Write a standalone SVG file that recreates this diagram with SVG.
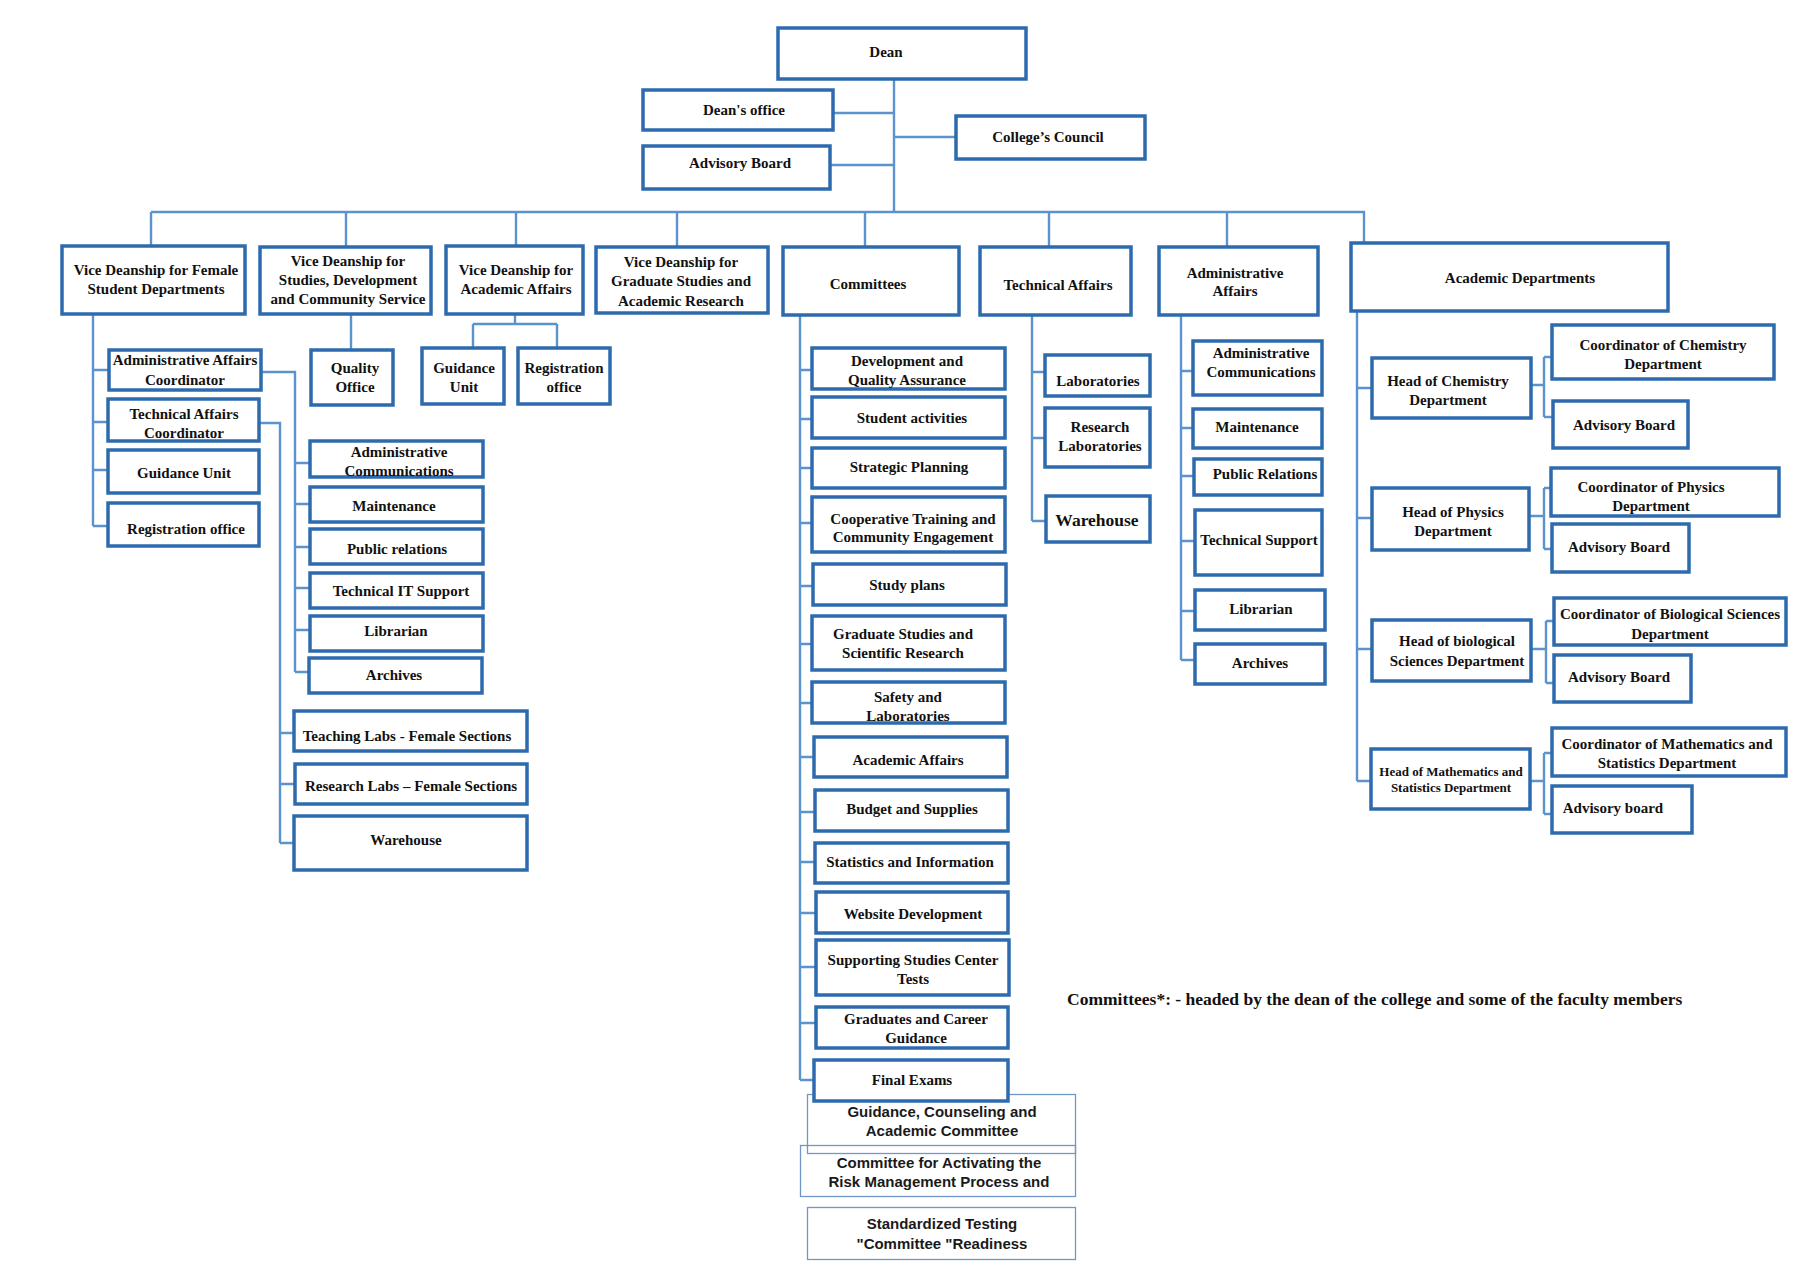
<svg xmlns="http://www.w3.org/2000/svg" width="1800" height="1270" viewBox="0 0 1800 1270">
<style>
.b{fill:#fff;stroke:#2E6BAE;stroke-width:3.5}
.tb{fill:none;stroke:#7097C8;stroke-width:1.3}
.c{fill:none;stroke:#5B93CF;stroke-width:2.4}
.t{font-family:"Liberation Serif","Times New Roman",serif;font-weight:bold;font-size:15px;fill:#111;text-anchor:middle}
.s{font-family:"Liberation Sans",Arial,sans-serif;font-weight:bold;font-size:15px;fill:#1a1a1a;text-anchor:middle}
</style>
<rect width="1800" height="1270" fill="#fff"/>
<g id="connectors">
<path class="c" d="M894 80V212 M833 113H894 M830 165H894 M894 137H955"/>
<path class="c" d="M151 212H1365 M151 212V246 M346 212V247 M516 212V246 M677 212V247 M865 212V247 M1049 212V247 M1227 212V247 M1364 212V243"/>
<path class="c" d="M93 314V526 M93 370H108 M93 422H108 M93 470H108 M93 526H108"/>
<path class="c" d="M261 372H295V672 M295 463H310 M295 504H310 M295 547H310 M295 588H310 M295 630H310 M295 672H309"/>
<path class="c" d="M259 423H280V843 M280 733H294 M280 784H295 M280 843H294"/>
<path class="c" d="M351 314V350"/>
<path class="c" d="M515 314V324 M473 324H557 M473 324V348 M557 324V348"/>
<path class="c" d="M800 315V1080 M800 370H812 M800 419H812 M800 468H812 M800 523H812 M800 586H813 M800 644H812 M800 703H812 M800 757H814 M800 812H815 M800 862H815 M800 913H816 M800 967H816 M800 1023H816 M800 1080H814"/>
<path class="c" d="M1032 315V521 M1032 372H1045 M1032 438H1045 M1032 521H1046"/>
<path class="c" d="M1181 315V660 M1181 371H1193 M1181 428H1193 M1181 476H1194 M1181 541H1195 M1181 611H1195 M1181 660H1195"/>
<path class="c" d="M1357 311V781 M1357 388H1372 M1357 518H1372 M1357 649H1372 M1357 781H1371"/>
<path class="c" d="M1531 385H1544 M1544 357V417 M1544 357H1552 M1544 417H1553"/>
<path class="c" d="M1529 516H1544 M1544 488V549 M1544 488H1551 M1544 549H1552"/>
<path class="c" d="M1531 649H1546 M1546 621V683 M1546 621H1554 M1546 683H1554"/>
<path class="c" d="M1530 781H1544 M1544 753V814 M1544 753H1552 M1544 814H1552"/>
</g>
<g id="dean"><rect class="b" x="778" y="28" width="248" height="51"/><text class="t" x="886" y="57">Dean</text></g>
<g id="deans-office"><rect class="b" x="643" y="90" width="190" height="40"/><text class="t" x="744" y="115">Dean's office</text></g>
<g id="advisory-board-top"><rect class="b" x="643" y="146" width="187" height="43"/><text class="t" x="740" y="168">Advisory Board</text></g>
<g id="colleges-council"><rect class="b" x="956" y="116" width="189" height="43"/><text class="t" x="1048" y="142">College’s Council</text></g>
<g id="vd-female"><rect class="b" x="62" y="246" width="183" height="68"/><text class="t" x="156" y="275">Vice Deanship for Female</text><text class="t" x="156" y="294">Student Departments</text></g>
<g id="vd-studies"><rect class="b" x="260" y="247" width="171" height="67"/><text class="t" x="348" y="266">Vice Deanship for</text><text class="t" x="348" y="285">Studies, Development</text><text class="t" x="348" y="304">and Community Service</text></g>
<g id="vd-academic"><rect class="b" x="446" y="246" width="137" height="68"/><text class="t" x="516" y="275">Vice Deanship for</text><text class="t" x="516" y="294">Academic Affairs</text></g>
<g id="vd-graduate"><rect class="b" x="596" y="247" width="172" height="66"/><text class="t" x="681" y="267">Vice Deanship for</text><text class="t" x="681" y="286">Graduate Studies and</text><text class="t" x="681" y="306">Academic Research</text></g>
<g id="committees"><rect class="b" x="783" y="247" width="176" height="68"/><text class="t" x="868" y="289">Committees</text></g>
<g id="technical-affairs"><rect class="b" x="980" y="247" width="151" height="68"/><text class="t" x="1058" y="290">Technical Affairs</text></g>
<g id="administrative-affairs"><rect class="b" x="1159" y="247" width="159" height="68"/><text class="t" x="1235" y="278">Administrative</text><text class="t" x="1235" y="296">Affairs</text></g>
<g id="academic-departments"><rect class="b" x="1351" y="243" width="317" height="68"/><text class="t" x="1520" y="283">Academic Departments</text></g>
<g id="admin-affairs-coordinator"><rect class="b" x="109" y="350" width="152" height="40"/><text class="t" x="185" y="365">Administrative Affairs</text><text class="t" x="185" y="385">Coordinator</text></g>
<g id="technical-affairs-coordinator"><rect class="b" x="108" y="399" width="151" height="42"/><text class="t" x="184" y="419">Technical Affairs</text><text class="t" x="184" y="438">Coordinator</text></g>
<g id="guidance-unit-f"><rect class="b" x="108" y="450" width="151" height="43"/><text class="t" x="184" y="478">Guidance Unit</text></g>
<g id="registration-office-f"><rect class="b" x="108" y="503" width="151" height="43"/><text class="t" x="186" y="534">Registration office</text></g>
<g id="admin-communications-f"><rect class="b" x="310" y="441" width="173" height="36"/><text class="t" x="399" y="457">Administrative</text><text class="t" x="399" y="476">Communications</text></g>
<g id="maintenance-f"><rect class="b" x="310" y="487" width="173" height="35"/><text class="t" x="394" y="511">Maintenance</text></g>
<g id="public-relations-f"><rect class="b" x="310" y="529" width="173" height="35"/><text class="t" x="397" y="554">Public relations</text></g>
<g id="technical-it-support"><rect class="b" x="310" y="573" width="173" height="35"/><text class="t" x="401" y="596">Technical IT Support</text></g>
<g id="librarian-f"><rect class="b" x="310" y="616" width="173" height="35"/><text class="t" x="396" y="636">Librarian</text></g>
<g id="archives-f"><rect class="b" x="309" y="658" width="173" height="35"/><text class="t" x="394" y="680">Archives</text></g>
<g id="teaching-labs"><rect class="b" x="294" y="711" width="233" height="40"/><text class="t" x="407" y="741">Teaching Labs - Female Sections</text></g>
<g id="research-labs-f"><rect class="b" x="295" y="764" width="232" height="40"/><text class="t" x="411" y="791">Research Labs – Female Sections</text></g>
<g id="warehouse-f"><rect class="b" x="294" y="816" width="233" height="54"/><text class="t" x="406" y="845">Warehouse</text></g>
<g id="quality-office"><rect class="b" x="311" y="350" width="82" height="55"/><text class="t" x="355" y="373">Quality</text><text class="t" x="355" y="392">Office</text></g>
<g id="guidance-unit-a"><rect class="b" x="422" y="348" width="82" height="56"/><text class="t" x="464" y="373">Guidance</text><text class="t" x="464" y="392">Unit</text></g>
<g id="registration-office-a"><rect class="b" x="518" y="348" width="92" height="56"/><text class="t" x="564" y="373">Registration</text><text class="t" x="564" y="392">office</text></g>
<g id="development-qa"><rect class="b" x="812" y="348" width="193" height="41"/><text class="t" x="907" y="366">Development and</text><text class="t" x="907" y="385">Quality Assurance</text></g>
<g id="student-activities"><rect class="b" x="812" y="397" width="193" height="41"/><text class="t" x="912" y="423">Student activities</text></g>
<g id="strategic-planning"><rect class="b" x="812" y="448" width="193" height="40"/><text class="t" x="909" y="472">Strategic Planning</text></g>
<g id="cooperative-training"><rect class="b" x="812" y="497" width="193" height="55"/><text class="t" x="913" y="524">Cooperative Training and</text><text class="t" x="913" y="542">Community Engagement</text></g>
<g id="study-plans"><rect class="b" x="813" y="564" width="193" height="41"/><text class="t" x="907" y="590">Study plans</text></g>
<g id="graduate-studies"><rect class="b" x="812" y="616" width="193" height="54"/><text class="t" x="903" y="639">Graduate Studies and</text><text class="t" x="903" y="658">Scientific Research</text></g>
<g id="safety-labs"><rect class="b" x="812" y="682" width="193" height="41"/><text class="t" x="908" y="702">Safety and</text><text class="t" x="908" y="721">Laboratories</text></g>
<g id="academic-affairs-c"><rect class="b" x="814" y="737" width="193" height="40"/><text class="t" x="908" y="765">Academic Affairs</text></g>
<g id="budget-supplies"><rect class="b" x="815" y="790" width="193" height="41"/><text class="t" x="912" y="814">Budget and Supplies</text></g>
<g id="statistics-information"><rect class="b" x="815" y="843" width="193" height="40"/><text class="t" x="910" y="867">Statistics and Information</text></g>
<g id="website-development"><rect class="b" x="816" y="892" width="192" height="41"/><text class="t" x="913" y="919">Website Development</text></g>
<g id="supporting-studies"><rect class="b" x="816" y="940" width="193" height="55"/><text class="t" x="913" y="965">Supporting Studies Center</text><text class="t" x="913" y="984">Tests</text></g>
<g id="graduates-career"><rect class="b" x="816" y="1007" width="192" height="41"/><text class="t" x="916" y="1024">Graduates and Career</text><text class="t" x="916" y="1043">Guidance</text></g>
<g id="guidance-counseling"><rect class="tb" x="807.5" y="1094.5" width="268" height="59"/><text class="s" x="942" y="1117">Guidance, Counseling and</text><text class="s" x="942" y="1136">Academic Committee</text></g>
<g id="risk-management"><rect class="tb" x="800.5" y="1145.5" width="275" height="51"/><text class="s" x="939" y="1168">Committee for Activating the</text><text class="s" x="939" y="1187">Risk Management Process and</text></g>
<g id="standardized-testing"><rect class="tb" x="807.5" y="1207.5" width="268" height="52"/><text class="s" x="942" y="1229">Standardized Testing</text><text class="s" x="942" y="1249">"Committee "Readiness</text></g>
<g id="final-exams"><rect class="b" x="814" y="1060" width="194" height="41"/><text class="t" x="912" y="1085">Final Exams</text></g>
<g id="laboratories"><rect class="b" x="1045" y="355" width="105" height="41"/><text class="t" x="1098" y="386">Laboratories</text></g>
<g id="research-laboratories"><rect class="b" x="1045" y="408" width="105" height="59"/><text class="t" x="1100" y="432">Research</text><text class="t" x="1100" y="451">Laboratories</text></g>
<g id="warehouse-t"><rect class="b" x="1046" y="496" width="104" height="46"/><text class="t" x="1097" y="526" style="font-size:17.5px">Warehouse</text></g>
<g id="admin-communications-a"><rect class="b" x="1193" y="341" width="129" height="54"/><text class="t" x="1261" y="358">Administrative</text><text class="t" x="1261" y="377">Communications</text></g>
<g id="maintenance-a"><rect class="b" x="1193" y="409" width="129" height="39"/><text class="t" x="1257" y="432">Maintenance</text></g>
<g id="public-relations-a"><rect class="b" x="1194" y="459" width="128" height="36"/><text class="t" x="1265" y="479">Public Relations</text></g>
<g id="technical-support"><rect class="b" x="1195" y="510" width="127" height="65"/><text class="t" x="1259" y="545">Technical Support</text></g>
<g id="librarian-a"><rect class="b" x="1195" y="590" width="130" height="40"/><text class="t" x="1261" y="614">Librarian</text></g>
<g id="archives-a"><rect class="b" x="1195" y="644" width="130" height="40"/><text class="t" x="1260" y="668">Archives</text></g>
<g id="head-chemistry"><rect class="b" x="1372" y="358" width="159" height="60"/><text class="t" x="1448" y="386">Head of Chemistry</text><text class="t" x="1448" y="405">Department</text></g>
<g id="coord-chemistry"><rect class="b" x="1552" y="325" width="222" height="54"/><text class="t" x="1663" y="350">Coordinator of Chemistry</text><text class="t" x="1663" y="369">Department</text></g>
<g id="advisory-chemistry"><rect class="b" x="1553" y="401" width="135" height="47"/><text class="t" x="1624" y="430">Advisory Board</text></g>
<g id="head-physics"><rect class="b" x="1372" y="488" width="157" height="62"/><text class="t" x="1453" y="517">Head of Physics</text><text class="t" x="1453" y="536">Department</text></g>
<g id="coord-physics"><rect class="b" x="1551" y="468" width="228" height="48"/><text class="t" x="1651" y="492">Coordinator of Physics</text><text class="t" x="1651" y="511">Department</text></g>
<g id="advisory-physics"><rect class="b" x="1552" y="524" width="137" height="48"/><text class="t" x="1619" y="552">Advisory Board</text></g>
<g id="head-biology"><rect class="b" x="1372" y="620" width="159" height="61"/><text class="t" x="1457" y="646">Head of biological</text><text class="t" x="1457" y="666">Sciences Department</text></g>
<g id="coord-biology"><rect class="b" x="1554" y="598" width="232" height="47"/><text class="t" x="1670" y="619">Coordinator of Biological Sciences</text><text class="t" x="1670" y="639">Department</text></g>
<g id="advisory-biology"><rect class="b" x="1554" y="655" width="137" height="47"/><text class="t" x="1619" y="682">Advisory Board</text></g>
<g id="head-math"><rect class="b" x="1371" y="749" width="159" height="60"/><text class="t" x="1451" y="776" style="font-size:13px">Head of Mathematics and</text><text class="t" x="1451" y="792" style="font-size:13px">Statistics Department</text></g>
<g id="coord-math"><rect class="b" x="1552" y="728" width="234" height="48"/><text class="t" x="1667" y="749">Coordinator of Mathematics and</text><text class="t" x="1667" y="768">Statistics Department</text></g>
<g id="advisory-math"><rect class="b" x="1552" y="786" width="140" height="47"/><text class="t" x="1613" y="813">Advisory board</text></g>
<text class="t" x="1067" y="1005" style="text-anchor:start;font-size:17.5px">Committees*: - headed by the dean of the college and some of the faculty members</text>
</svg>
